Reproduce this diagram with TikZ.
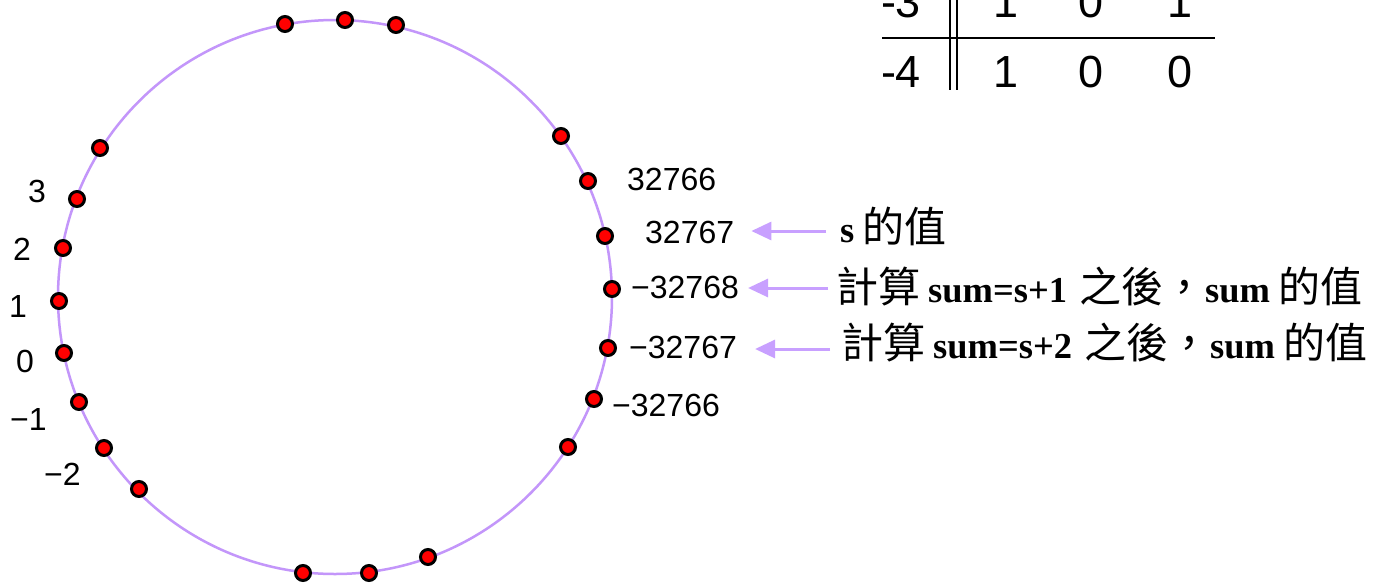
\documentclass[tikz,border=0pt]{standalone}
\usepackage{fontspec}
\setmainfont{Liberation Sans}
\newfontfamily\cjkfont{Noto Sans CJK TC}
\newfontfamily\seriffont{Liberation Serif}
\usetikzlibrary{arrows.meta}
\definecolor{ringc}{RGB}{195,150,250}
\definecolor{arrc}{RGB}{200,160,255}
\definecolor{dotred}{RGB}{255,0,0}
\newcommand{\lat}[1]{{\seriffont\bfseries\fontsize{36.5}{40}\selectfont #1}}
\newcommand{\zh}[1]{{\cjkfont\fontsize{42}{46}\selectfont #1}}
\begin{document}
\begin{tikzpicture}[x=1pt,y=-1pt,
  dot/.style={circle,draw=black,line width=3pt,fill=dotred,minimum size=15pt,inner sep=0pt},
  num/.style={inner sep=0pt,anchor=base west,font=\fontsize{32}{36}\selectfont,text height=22pt,text depth=0pt},
  expl/.style={inner sep=0pt,anchor=base west,text depth=0pt},
  tab/.style={inner sep=0pt,anchor=base,font=\fontsize{45}{50}\selectfont},
  ring/.style={draw=ringc,line width=2.5pt},
  arr/.style={draw=arrc,line width=3pt,-{Triangle[length=20pt,width=18pt]}},
  rulel/.style={line width=2pt}]
\useasboundingbox (0,0) rectangle (1374,584);
\clip (0,0) rectangle (1374,584);
\fill[white] (0,0) rectangle (1374,584);

% ring
\draw[ring] (335,297) circle[radius=277pt];

% dots
\foreach \n/\p in {t1/{(285,24)},t2/{(345,20)},t3/{(396,25)},
  r1/{(561,136)},r2/{(588,181)},r3/{(605,236)},r4/{(612,289)},r5/{(608,348)},r6/{(594,399)},r7/{(568,447)},
  b1/{(428,557)},b2/{(369,573)},b3/{(303,573)},
  l1/{(139,489)},l2/{(104,448)},l3/{(79,402)},l4/{(64,353)},l5/{(59,301)},l6/{(63,248)},l7/{(77,199)},l8/{(100,148)}}
  \node[dot] (\n) at \p {};

% left labels
\node[num] (m3) at (28,202) {3};
\node[num] (m2) at (13,260) {2};
\node[num] (m1) at (9,317) {1};
\node[num] (m0) at (16,372) {0};
\node[num] (mn1) at (10,430) {−1};
\node[num] (mn2) at (44,485) {−2};

% right labels
\node[num] (n0) at (627,190) {32766};
\node[num] (n1) at (645,243) {32767};
\node[num] (n2) at (631,298) {−32768};
\node[num] (n3) at (629,358) {−32767};
\node[num] (n4) at (612,416) {−32766};

% explanations
\node[expl,text height=22pt] (e1) at (840,242) {\lat{s}\hspace{8pt}\zh{的值}};
\node[expl,text height=28pt] (e2) at (836,302) {\zh{計算}\hspace{8pt}\lat{sum=s+1}\hspace{12pt}\zh{之後，}\lat{sum}\hspace{8pt}\zh{的值}};
\node[expl,text height=18pt] (e3) at (841,358) {\zh{計算}\hspace{8pt}\lat{sum=s+2}\hspace{12pt}\zh{之後，}\lat{sum}\hspace{8pt}\zh{的值}};

% arrows
\draw[arr,shorten <=14pt,shorten >=17pt] (e1.west) -- (e1.west -| n1.east);
\draw[arr,shorten <=8pt,shorten >=9pt] (e2.west) -- (e2.west -| n2.east);
\draw[arr,shorten <=11pt,shorten >=18pt] (e3.west) -- (e3.west -| n3.east);

% table (partly cut off)
\node[tab] (ta) at (901,17) {-3};
\node[tab] (tb) at (1006,17) {1};
\node[tab] (tc) at (1091,17) {0};
\node[tab] (td) at (1180,17) {1};
\node[tab] (te) at (901,87) {-4};
\node[tab] (tf) at (1006,87) {1};
\node[tab] (tg) at (1091,87) {0};
\node[tab] (th) at (1180,87) {0};
\coordinate (hl) at (882,38);
\coordinate (hr) at (1215,38);
\draw[rulel] (hl) -- (hr);
\coordinate (v1t) at (950,-5);
\coordinate (v1b) at (950,90);
\coordinate (v2t) at (957,-5);
\coordinate (v2b) at (957,90);
\draw[rulel] (v1t) -- (v1b);
\draw[rulel] (v2t) -- (v2b);
\end{tikzpicture}
\end{document}
